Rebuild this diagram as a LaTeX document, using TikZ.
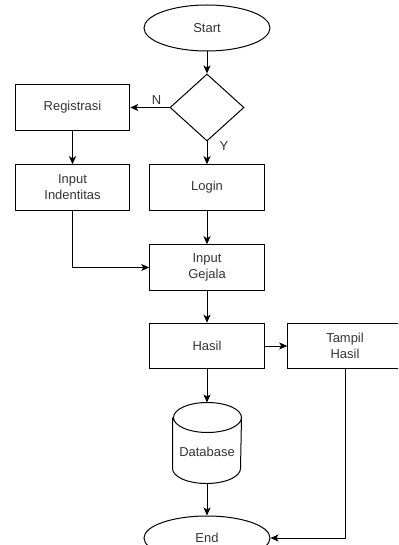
\documentclass[tikz,border=0pt]{standalone}
\usepackage{fontspec}
\setmainfont{Liberation Sans}
\usetikzlibrary{arrows.meta,shapes.geometric,positioning}

\begin{document}
\begin{tikzpicture}[x=1bp,y=-1bp,font=\fontsize{13}{16}\selectfont,line width=1bp,>={Stealth[length=8bp,width=7bp,inset=2bp]},
  term/.style={ellipse,draw,minimum width=126bp,minimum height=46bp,inner sep=0pt,text=black!80},
  proc/.style={rectangle,draw,minimum width=114.5bp,minimum height=45.5bp,align=center,inner sep=2pt,text=black!80},
  dec/.style={diamond,draw,minimum width=74bp,minimum height=67bp,inner sep=0pt,aspect=1.1},
  lbl/.style={inner sep=1pt,text=black!80}]
\clip (0,0) rectangle (398,545);
% ---------- start / login check ----------
\node[term] (start) at (207,28) {Start};
\node[dec] (dec) at (207,107.5) {};
\node[proc] (reg) at (72.5,107.5) {Registrasi};
\node[proc] (ident) at (72.5,187.5) {Input\\Indentitas};
\node[proc] (login) at (207,187.5) {Login};
% ---------- main flow ----------
\node[proc] (gejala) at (207,267.5) {Input\\Gejala};
\node[proc] (hasil) at (207,346) {Hasil};
\node[proc] (tampil) at (345,346) {Tampil\\Hasil};
\node[minimum width=68bp,minimum height=80bp,inner sep=0pt,text height=27bp,text depth=0pt,text=black!80] (db) at (207,443) {Database};
\draw ([yshift=-15bp]db.north west) -- ([yshift=15bp]db.south west)
  arc[start angle=180,end angle=360,x radius=34bp,y radius=15bp] -- ([yshift=-15bp]db.north east)
  arc[start angle=0,end angle=180,x radius=34bp,y radius=15bp]
  arc[start angle=180,end angle=360,x radius=34bp,y radius=15bp];
\node[term,minimum height=44bp] (end) at (207,538) {End};
% ---------- connectors ----------
\draw[->] (dec.west) -- (reg.east) node[lbl,pos=0.33,above=2bp] {N};
\draw[->] (dec.south) -- (login) node[lbl,pos=0.2,right=11bp] {Y};
\foreach \a/\b in {start/dec,reg/ident,login/gejala,gejala/hasil,hasil/db,db/end}{\draw[->] (\a)--(\b);}
\draw[->] (ident.south) |- (gejala.west);
\draw[->] (hasil) -- (tampil);
\draw[->] (tampil.south) |- (end.east);
\end{tikzpicture}
\end{document}
